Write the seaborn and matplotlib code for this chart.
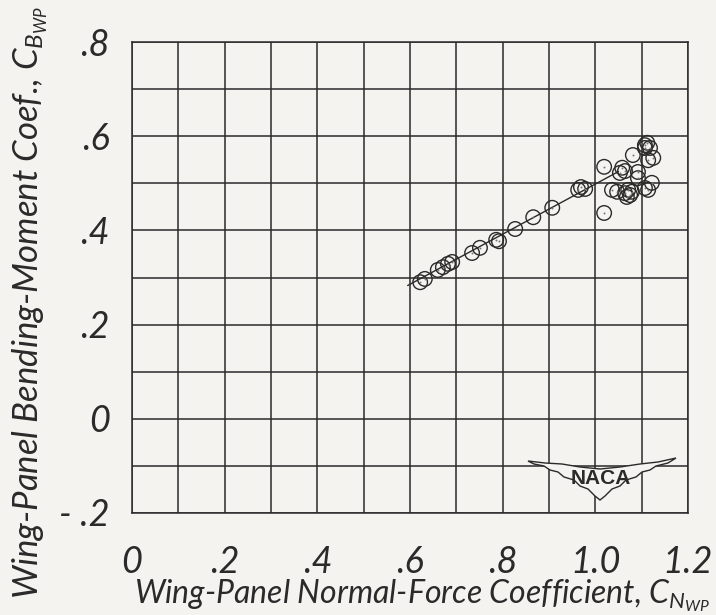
import numpy as np
import pandas as pd
import matplotlib
matplotlib.use("Agg")
import matplotlib.pyplot as plt
import seaborn as sns
from matplotlib.patches import Polygon

# Wing-panel normal-force coefficient (x) and bending-moment coefficient (y)
c_nwp = [0.622, 0.632, 0.660, 0.671, 0.682, 0.691, 0.734, 0.751, 0.786, 0.792,
         0.827, 0.866, 0.907, 0.963, 0.969, 0.978, 1.019, 1.019, 1.058, 1.053,
         1.064, 1.081, 1.107, 1.112, 1.107, 1.118, 1.125, 1.114, 1.092, 1.092,
         1.122, 1.107, 1.114, 1.071, 1.064, 1.047, 1.075, 1.068, 1.079, 1.036]
c_bwp = [0.290, 0.297, 0.316, 0.322, 0.329, 0.333, 0.352, 0.363, 0.380, 0.377,
         0.403, 0.428, 0.448, 0.486, 0.492, 0.488, 0.535, 0.437, 0.533, 0.522,
         0.526, 0.560, 0.581, 0.586, 0.575, 0.575, 0.554, 0.549, 0.524, 0.511,
         0.501, 0.490, 0.486, 0.486, 0.479, 0.482, 0.475, 0.471, 0.482, 0.486]

# Faired line through the linear range
fair_x = [0.595, 1.050]
fair_y = [0.283, 0.525]

x_ticks = [0.0, 0.2, 0.4, 0.6, 0.8, 1.0, 1.2]
x_tick_labels = ["0", ".2", ".4", ".6", ".8", "1.0", "1.2"]
y_ticks = [-0.2, 0.0, 0.2, 0.4, 0.6, 0.8]
y_tick_labels = ["- .2", "0", ".2", ".4", ".6", ".8"]

paper = "#f5f3ef"
ink = "#2a2a2a"

sns.set_style("white")
plt.rcParams["font.family"] = ["Lato", "Liberation Sans", "DejaVu Sans"]
plt.rcParams["mathtext.fontset"] = "custom"
plt.rcParams["mathtext.it"] = "Lato:italic"
plt.rcParams["mathtext.rm"] = "Lato"

W, H = 716, 615
fig = plt.figure(figsize=(W / 100, H / 100), dpi=100, facecolor=paper)
ax = fig.add_axes([132 / W, 1 - 513 / H, (688 - 132) / W, (513 - 42) / H])
ax.set_facecolor(paper)

ax.set_xlim(0, 1.2)
ax.set_ylim(-0.2, 0.8)
ax.set_xticks(np.arange(0, 1.21, 0.1), minor=True)
ax.set_yticks(np.arange(-0.2, 0.81, 0.1), minor=True)
ax.set_xticks(x_ticks)
ax.set_yticks(y_ticks)
ax.set_xticklabels(x_tick_labels)
ax.set_yticklabels(y_tick_labels)
ax.grid(True, which="both", color=ink, linewidth=1.1)
ax.tick_params(which="both", length=0)
ax.tick_params(axis="x", pad=24, labelsize=26, labelcolor=ink)
ax.tick_params(axis="y", pad=16, labelsize=26, labelcolor=ink)
for lab in ax.get_xticklabels() + ax.get_yticklabels():
    lab.set_fontstyle("italic")
for s in ax.spines.values():
    s.set_color(ink)
    s.set_linewidth(1.1)

df = pd.DataFrame({"cn": c_nwp, "cb": c_bwp})
fair = pd.DataFrame({"cn": fair_x, "cb": fair_y})

sns.lineplot(data=fair, x="cn", y="cb", ax=ax, color=ink, linewidth=1.0, zorder=3)
sns.scatterplot(data=df, x="cn", y="cb", ax=ax, marker="o", s=110,
                facecolor="none", edgecolor=ink, linewidth=1.0, zorder=4)
sns.scatterplot(data=df, x="cn", y="cb", ax=ax, marker="o", s=2,
                color="#777777", linewidth=0, zorder=5)
ax.set_xlabel("")
ax.set_ylabel("")

# NACA wing emblem in the lower right corner
wing_px = [(528, 461), (545, 463), (562, 464), (580, 467), (600, 469), (620, 467),
           (640, 464), (658, 462), (676, 458), (668, 463), (656, 466), (650, 470),
           (642, 472), (636, 477), (626, 480), (620, 486), (612, 489), (605, 496),
           (600, 500), (595, 496), (588, 489), (580, 486), (574, 480), (564, 477),
           (558, 472), (550, 470), (544, 466), (534, 464)]
wing_fig = [(px / W, 1 - py / H) for px, py in wing_px]
fig.patches.append(Polygon(wing_fig, closed=True, transform=fig.transFigure,
                           facecolor=paper, edgecolor=ink, linewidth=1.0, zorder=10))
fig.text(601 / W, 1 - 478 / H, "NACA", ha="center", va="center", fontsize=15,
         weight="bold", color=ink, family=["Liberation Sans", "DejaVu Sans"],
         zorder=11)

fig.text(422 / W, 1 - 596 / H, "Wing-Panel Normal-Force Coefficient, $C_{N_{WP}}$",
         ha="center", va="center", fontsize=23, style="italic", color=ink)
fig.text(30 / W, 1 - 302 / H, "Wing-Panel Bending-Moment Coef., $C_{B_{WP}}$",
         ha="center", va="center", fontsize=25, style="italic", color=ink,
         rotation=90)

fig.savefig("out.png", dpi=100, facecolor=paper)
